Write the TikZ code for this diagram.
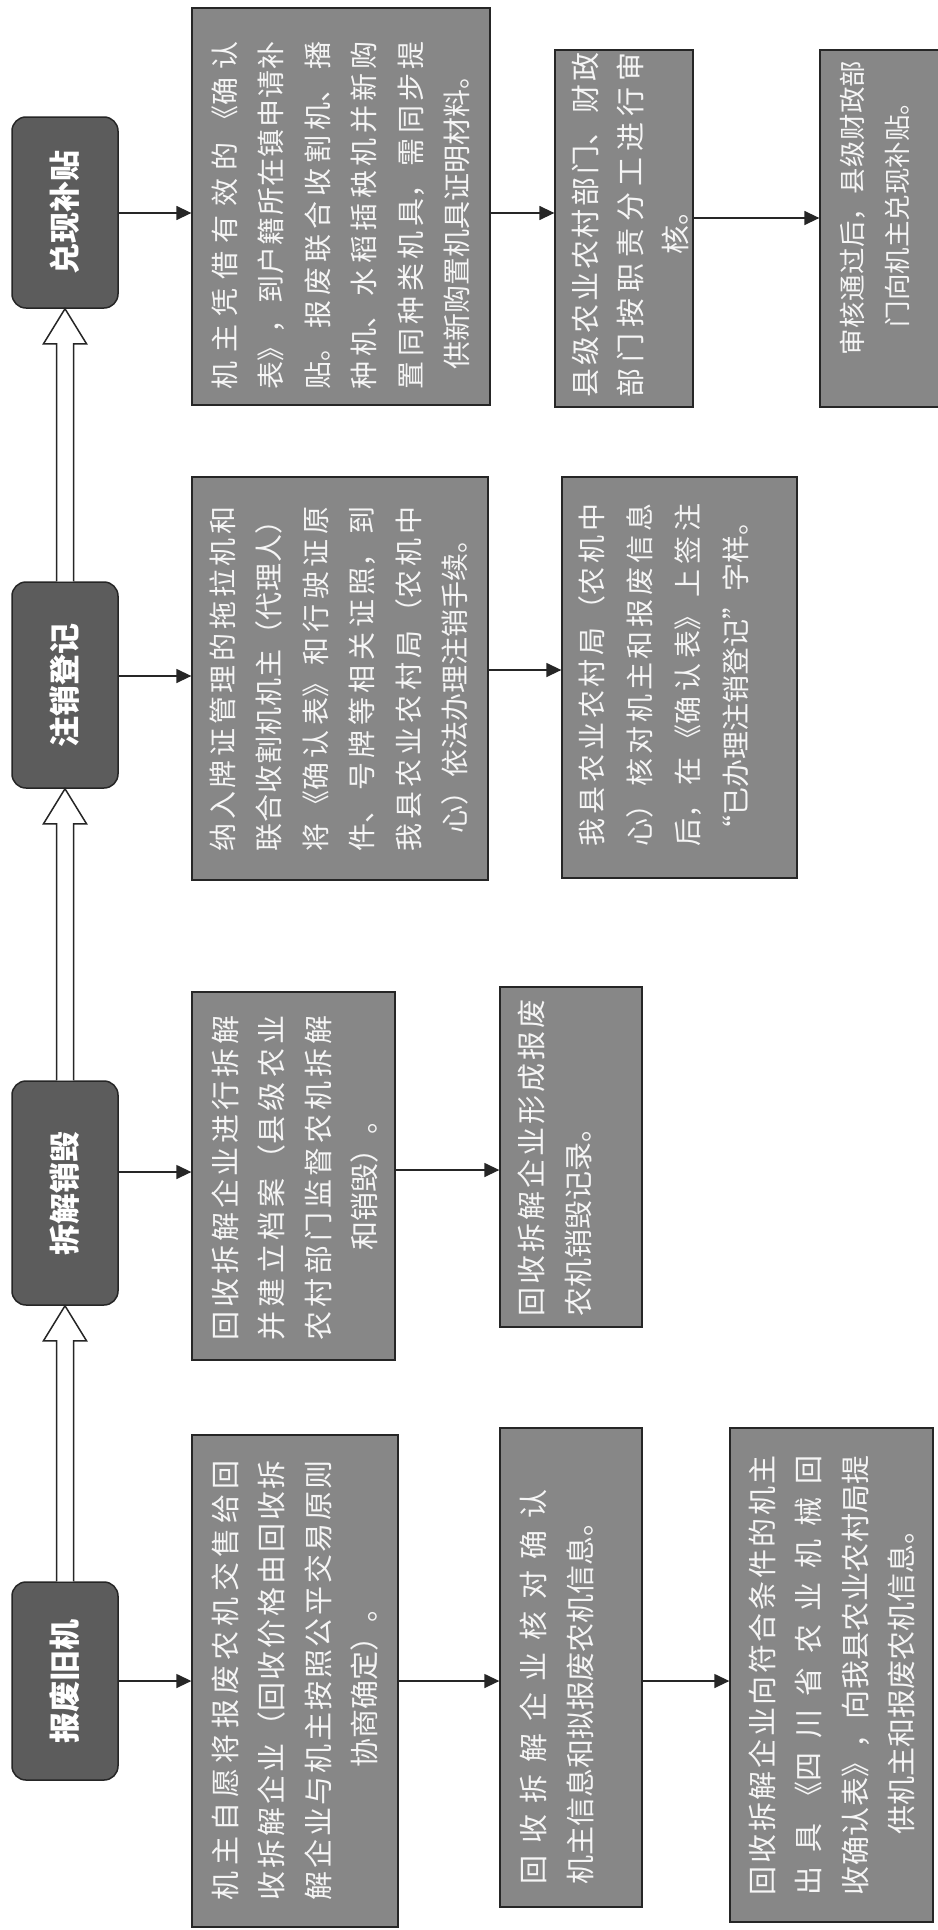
\documentclass[tikz,border=0pt]{standalone}
\usepackage{fontspec}
\usepackage{graphicx}
\newfontfamily\cjk{Noto Sans CJK SC}
\XeTeXlinebreaklocale "zh"
\XeTeXlinebreakskip=0pt plus 10pt
\XeTeXlinebreakpenalty=10000
\usetikzlibrary{arrows.meta}
\definecolor{hdrfill}{gray}{0.36}
\definecolor{boxfill}{gray}{0.53}
\definecolor{boxtxt}{gray}{0.96}
\definecolor{edge}{gray}{0.15}
\newcommand\jset{\tolerance=10000\hbadness=10000\adjdemerits=0\linepenalty=10\emergencystretch=0pt\relax}
\newcommand\jusC{\noindent\jset\leftskip=0pt plus .5fil\rightskip=0pt plus -.5fil\parfillskip=0pt plus 1fil\relax}
\newcommand\jusL{\noindent\jset\leftskip=0pt\rightskip=0pt\parfillskip=0pt plus 1fil\relax}
\newcommand\harr[2]{%
  \draw[harrow] ([xshift=-8.5pt]#1.north) -- ([xshift=-8.5pt,yshift=-35pt]#2.south)
    -- ([xshift=-21.5pt,yshift=-35pt]#2.south) -- (#2.south)
    -- ([xshift=21.5pt,yshift=-35pt]#2.south) -- ([xshift=8.5pt,yshift=-35pt]#2.south)
    -- ([xshift=8.5pt]#1.north);}
\begin{document}
\begin{tikzpicture}[x=1pt,y=-1pt,
  hdr/.style={draw=edge, line width=1.5pt, fill=hdrfill, rounded corners=14pt,
    minimum width=106pt, inner sep=0pt, text=white,
    font={\cjk\bfseries\fontsize{31}{31}\selectfont}},
  cbox/.style={draw=edge, line width=1.3pt, fill=boxfill, inner sep=0pt},
  ctext/.style={rotate=90, inner sep=0pt, text width=#1, text=boxtxt,
    font={\cjk\fontsize{29}{46.5}\selectfont}},
  conn/.style={line width=1.4pt, draw=black!85, -{Triangle[length=15pt,width=14pt]}},
  harrow/.style={draw=black!85, line width=1.5pt, fill=white, line join=miter}
]
\useasboundingbox (0,0) rectangle (937,1930);
\fill[white] (0,0) rectangle (937,1930);

\coordinate (yA) at (0,1681);
\coordinate (yB) at (0,1172);
\coordinate (yC) at (0,676);
\coordinate (yD) at (0,213);

% header boxes
\path (65,1681) node[hdr, minimum height=198pt] (hA) {\rotatebox{90}{报废旧机}};
\path (65,1193) node[hdr, minimum height=224pt] (hB) {\rotatebox{90}{拆解销毁}};
\path (65,685) node[hdr, minimum height=206pt] (hC) {\rotatebox{90}{注销登记}};
\path (65,212.5) node[hdr, minimum height=191pt] (hD) {\rotatebox{90}{兑现补贴}};

% hollow arrows
\harr{hA}{hB}
\harr{hB}{hC}
\harr{hC}{hD}

% content boxes
\node[cbox, minimum width=206pt, minimum height=492pt] (A1) at (295,1681) {};
\node[cbox, minimum width=142pt, minimum height=479pt] (A2) at (571,1667.5) {};
\node[cbox, minimum width=203pt, minimum height=494pt] (A3) at (831.5,1675) {};
\node[cbox, minimum width=203pt, minimum height=368pt] (B1) at (293.5,1176) {};
\node[cbox, minimum width=142pt, minimum height=340pt] (B2) at (571,1157) {};
\node[cbox, minimum width=296pt, minimum height=403pt] (C1) at (340,678.5) {};
\node[cbox, minimum width=235pt, minimum height=401pt] (C2) at (679.5,677.5) {};
\node[cbox, minimum width=298pt, minimum height=397pt] (D1) at (341,206.5) {};
\node[cbox, minimum width=138pt, minimum height=357pt] (D2) at (624,228.5) {};
\node[cbox, minimum width=138pt, minimum height=357pt] (D3) at (889,228.5) {};

% texts
\node[ctext=440pt] (A1t) at (295,1680) {\jusC 机主自愿将报废农机交售给回\break 收拆解企业（回收价格由回收拆\break 解企业与机主按照公平交易原则\break 协商确定）。\par};
\node[ctext=395pt] (A2t) at (557,1687) {\jusL 回收拆解企业核对确认\break 机主信息和拟报废农机信息。\par};
\node[ctext=440pt] (A3t) at (832,1675) {\jusC 回收拆解企业向符合条件的机主\break 出具《四川省农业机械回\break 收确认表》，向我县农业农村局提\break 供机主和报废农机信息。\par};
\node[ctext=325pt] (B1t) at (295,1178) {\jusC 回收拆解企业进行拆解\break 并建立档案（县级农业\break 农村部门监督农机拆解\break 和销毁）。\par};
\node[ctext=317pt] (B2t) at (555,1158) {\jusL 回收拆解企业形成报废\break 农机销毁记录。\par};
\node[ctext=345pt, font={\cjk\fontsize{28}{46.5}\selectfont}] (C1t) at (339,679) {\jusC 纳入牌证管理的拖拉机和\break 联合收割机机主（代理人）\break 将《确认表》和行驶证原\break 件、号牌等相关证照，到\break 我县农业农村局（农机中\break 心）依法办理注销手续。\par};
\node[ctext=343pt, font={\cjk\fontsize{28}{48}\selectfont}] (C2t) at (664,675) {\jusC 我县农业农村局（农机中\break 心）核对机主和报废信息\break 后，在《确认表》上签注\break “已办理注销登记”字样。\par};
\node[ctext=348pt, font={\cjk\fontsize{28}{46.5}\selectfont}] (D1t) at (341,215) {\jusC 机主凭借有效的《确认\break 表》，到户籍所在镇申请补\break 贴。报废联合收割机、播\break 种机、水稻插秧机并新购\break 置同种类机具，需同步提\break 供新购置机具证明材料。\par};
\node[ctext=345pt, font={\cjk\fontsize{29}{45}\selectfont}] (D2t) at (630,225) {\jusC 县级农业农村部门、财政\break 部门按职责分工进行审\break 核。\par};
\node[ctext=295pt, font={\cjk\fontsize{26.5}{45}\selectfont}] (D3t) at (875,208) {\jusC 审核通过后，县级财政部\break 门向机主兑现补贴。\par};

% connectors
\draw[conn] (hA.east |- yA) -- (A1.west |- yA);
\draw[conn] (A1.east |- yA) -- (A2.west |- yA);
\draw[conn] (A2.east |- yA) -- (A3.west |- yA);
\draw[conn] (hB.east |- yB) -- (B1.west |- yB);
\draw[conn] ([yshift=2pt]B1.east |- yB) -- ([yshift=2pt]B2.west |- yB);
\draw[conn] (hC.east |- yC) -- (C1.west |- yC);
\draw[conn] ([yshift=6pt]C1.east |- yC) -- ([yshift=6pt]C2.west |- yC);
\draw[conn] (hD.east |- yD) -- (D1.west |- yD);
\draw[conn] (D1.east |- yD) -- (D2.west |- yD);
\draw[conn] ([yshift=-5pt]D2.east |- yD) -- ([yshift=-5pt]D3.west |- yD);
\end{tikzpicture}
\end{document}
